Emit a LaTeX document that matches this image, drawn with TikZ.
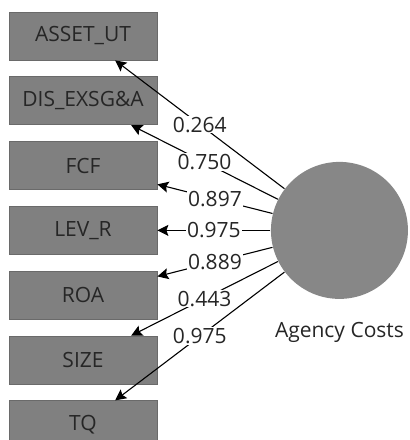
\documentclass[tikz,border=0pt]{standalone}
\usepackage{fontspec}
\setmainfont{Open Sans}
\usepackage{tikz}
\usetikzlibrary{arrows.meta,positioning}
\definecolor{boxgray}{HTML}{808080}
\definecolor{boxline}{HTML}{6A6A6A}
\definecolor{circgray}{HTML}{878787}
\definecolor{txt}{HTML}{262626}

\begin{document}
\begin{tikzpicture}[
        ->,
        >={Stealth[length=11pt,width=11pt,inset=2pt]},
        line width=1.1pt,
        node distance=16pt,
        font=\fontsize{21}{25}\selectfont,
        indicator/.style={draw=boxline, fill=boxgray, text=txt, rectangle, minimum width=148pt, minimum height=48pt, inner sep=0pt, line width=0.8pt},
        construct/.style={fill=circgray, circle, minimum size=137pt, inner sep=0pt},
        loading/.style={fill=white, text=txt, inner sep=1pt}
        ]

        \useasboundingbox (-83pt,36pt) rectangle (327pt,-404pt);
        \clip (-83pt,36pt) rectangle (327pt,-404pt);

        % Nodes
        \node[indicator] (asset) {ASSET\_UT};
        \node[indicator, below=of asset] (dis) {DIS\_EXSG\&A};
        \node[indicator, below=of dis] (fcf) {FCF};
        \node[indicator, below=of fcf] (lev) {LEV\_R};
        \node[indicator, below=of lev] (roa) {ROA};
        \node[indicator, below=of roa] (size) {SIZE};
        \node[indicator, below=of size] (tq) {TQ};
        \node[construct, right=113pt of lev] (agency) {};
        \node[below=22pt of agency, text=txt, inner sep=0pt] (aclabel) {Agency Costs};

        % Edges
        \draw (agency) -- node[loading] {0.264} (asset);
        \draw (agency) -- node[loading] {0.750} (dis);
        \draw (agency) -- node[loading] {0.897} (fcf);
        \draw (agency) -- node[loading] {0.975} (lev);
        \draw (agency) -- node[loading] {0.889} (roa);
        \draw (agency) -- node[loading] {0.443} (size);
        \draw (agency) -- node[loading] {0.975} (tq);

    \end{tikzpicture}
\end{document}
